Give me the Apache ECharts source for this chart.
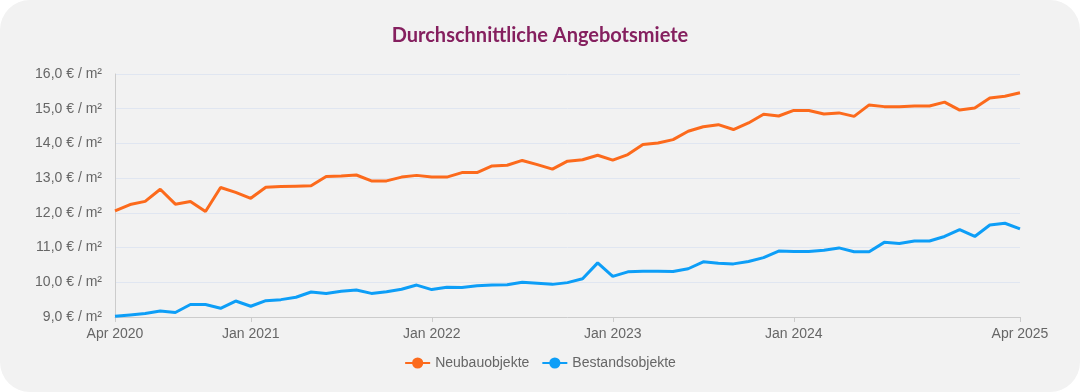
<!DOCTYPE html>
<html>
<head>
<meta charset="utf-8">
<script src="https://cdn.jsdelivr.net/npm/echarts@6/dist/echarts.min.js"></script>
<style>
html,body{margin:0;padding:0;background:#ffffff;}
#wrap{width:1080px;height:392px;background:#f2f2f2;border-radius:30px;overflow:hidden;}
#chart{width:1080px;height:392px;}
</style>
</head>
<body>
<div id="wrap"><div id="chart"></div></div>
<script>
// Months Apr 2020 .. Apr 2025
const monthNames = ['Jan','Feb','Mar','Apr','May','Jun','Jul','Aug','Sep','Oct','Nov','Dec'];
const startYear = 2020, startMonth = 3, monthCount = 61;
const categories = [];
for (let i = 0; i < monthCount; i++) {
  const m = (startMonth + i) % 12;
  const y = startYear + Math.floor((startMonth + i) / 12);
  categories.push(monthNames[m] + ' ' + y);
}
const labeledMonths = ['Apr 2020','Jan 2021','Jan 2022','Jan 2023','Jan 2024','Apr 2025'];

const neubau = [
  12.06,12.24,12.33,12.68,12.25,12.33,12.04,12.73,12.59,12.42,
  12.74,12.76,12.77,12.78,13.05,13.06,13.09,12.92,12.92,13.03,
  13.08,13.03,13.03,13.16,13.16,13.35,13.37,13.51,13.39,13.26,
  13.49,13.53,13.66,13.52,13.68,13.97,14.01,14.11,14.35,14.48,
  14.54,14.40,14.59,14.84,14.79,14.95,14.95,14.85,14.88,14.78,
  15.11,15.06,15.06,15.08,15.08,15.19,14.96,15.02,15.31,15.36,
  15.46
];
const bestand = [
  9.02,9.06,9.10,9.17,9.13,9.36,9.36,9.25,9.46,9.31,
  9.47,9.50,9.57,9.72,9.68,9.74,9.78,9.68,9.73,9.80,
  9.92,9.79,9.86,9.85,9.90,9.92,9.93,10.00,9.97,9.94,
  9.99,10.10,10.56,10.17,10.30,10.32,10.32,10.31,10.39,10.59,
  10.55,10.53,10.60,10.71,10.90,10.89,10.89,10.92,10.99,10.88,
  10.88,11.15,11.12,11.19,11.19,11.32,11.52,11.32,11.65,11.70,
  11.54
];
const seriesNames = ['Neubauobjekte','Bestandsobjekte'];
const colors = ['#fc6a1c','#0d9ef7'];

const chart = echarts.init(document.getElementById('chart'), null, {renderer:'canvas'});
const showIdx = (idx) => labeledMonths.indexOf(categories[idx]) >= 0;

chart.setOption({
  backgroundColor: 'transparent',
  animation: false,
  color: colors,
  title: {
    text: 'Durchschnittliche Angebotsmiete',
    left: 'center',
    top: 21,
    textStyle: {fontFamily: 'Lato', fontWeight: 'bold', fontSize: 20, color: '#85205f'}
  },
  legend: {
    data: seriesNames,
    top: 351,
    left: 'center',
    itemWidth: 25,
    itemHeight: 14,
    itemGap: 12,
    textStyle: {fontFamily: 'Liberation Sans, Arial, sans-serif', fontSize: 14, color: '#666'}
  },
  grid: {left: 115, right: 60, top: 74, bottom: 75, containLabel: false},
  xAxis: {
    type: 'category',
    data: categories,
    boundaryGap: false,
    axisLine: {lineStyle: {color: '#cccccc'}},
    axisTick: {interval: (idx) => showIdx(idx), length: 5, lineStyle: {color: '#cccccc'}},
    axisLabel: {
      interval: (idx) => showIdx(idx),
      fontFamily: 'Liberation Sans, Arial, sans-serif',
      fontSize: 14, color: '#666', margin: 10
    },
    splitLine: {show: false}
  },
  yAxis: {
    type: 'value',
    min: 9, max: 16, interval: 1,
    axisLine: {show: true, lineStyle: {color: '#cccccc'}},
    axisTick: {show: false},
    axisLabel: {
      formatter: (v) => v.toFixed(1).replace('.', ',') + ' € / m²',
      fontFamily: 'Liberation Sans, Arial, sans-serif',
      fontSize: 14, color: '#666', margin: 13
    },
    splitLine: {lineStyle: {color: '#e0e6f1'}}
  },
  series: [
    {name: seriesNames[0], type: 'line', data: neubau, symbol: 'circle', symbolSize: 8, showSymbol: false, lineStyle: {width: 3}},
    {name: seriesNames[1], type: 'line', data: bestand, symbol: 'circle', symbolSize: 8, showSymbol: false, lineStyle: {width: 3}}
  ]
});
</script>
</body>
</html>
